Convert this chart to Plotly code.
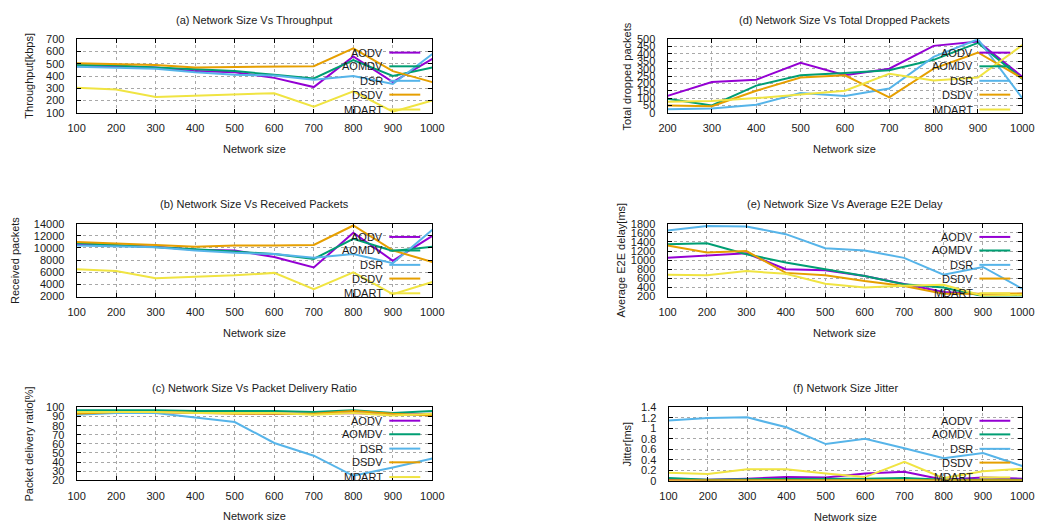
import plotly.graph_objects as go

# Network sizes (x values)
sizes = [100, 200, 300, 400, 500, 600, 700, 800, 900, 1000]
sizes_drop = [200, 300, 400, 500, 600, 700, 800, 900, 1000]

protocols = ["AODV", "AOMDV", "DSR", "DSDV", "MDART"]
colors = ["#9400d3", "#009e73", "#56b4e9", "#e69f00", "#f0e442"]

# (a) Throughput [kbps]
thr_aodv = [480, 480, 470, 440, 430, 385, 310, 560, 350, 540]
thr_aomdv = [490, 485, 470, 455, 440, 410, 380, 530, 400, 470]
thr_dsr = [475, 470, 460, 430, 410, 405, 370, 400, 335, 580]
thr_dsdv = [505, 495, 490, 470, 475, 475, 480, 625, 440, 350]
thr_mdart = [305, 290, 230, 240, 250, 260, 150, 275, 110, 200]

# (b) Received packets
rcv_aodv = [10600, 10400, 10200, 9700, 9600, 8500, 6800, 12500, 7900, 12000]
rcv_aomdv = [10800, 10500, 10100, 9800, 9400, 9000, 8200, 11500, 9500, 10200]
rcv_dsr = [10400, 10300, 10100, 9600, 9200, 9000, 8400, 9000, 7500, 13000]
rcv_dsdv = [11000, 10800, 10500, 10200, 10400, 10400, 10500, 13700, 9600, 7700]
rcv_mdart = [6500, 6200, 5000, 5200, 5500, 5900, 3200, 6000, 2400, 4400]

# (c) Packet delivery ratio [%]
pdr_aodv = [96, 95, 95, 94, 94, 93, 93, 94, 92, 93]
pdr_aomdv = [97, 97, 97, 96, 96, 96, 95, 97, 94, 96]
pdr_dsr = [92, 94, 94, 89, 84, 61, 47, 25, 34, 44]
pdr_dsdv = [93, 95, 95, 94, 93, 93, 93, 96, 93, 91]
pdr_mdart = [95, 95, 95, 94, 94, 94, 92, 94, 91, 93]

# (d) Total dropped packets (sizes 200..1000)
drp_aodv = [115, 210, 225, 340, 255, 300, 455, 485, 245]
drp_aomdv = [95, 50, 185, 255, 270, 290, 360, 475, 230]
drp_dsr = [25, 30, 55, 135, 115, 165, 380, 500, 100]
drp_dsdv = [50, 45, 150, 240, 255, 105, 300, 410, 235]
drp_mdart = [75, 80, 100, 125, 150, 265, 220, 240, 460]

# (e) Average end-to-end delay [ms]
e2e_aodv = [1050, 1100, 1150, 800, 780, 650, 480, 300, 250, 260]
e2e_aomdv = [1350, 1370, 1130, 950, 800, 650, 470, 400, 210, 220]
e2e_dsr = [1650, 1750, 1740, 1570, 1260, 1210, 1050, 680, 850, 370]
e2e_dsdv = [1320, 1170, 1200, 720, 670, 540, 430, 260, 260, 270]
e2e_mdart = [680, 670, 760, 700, 480, 400, 440, 460, 220, 240]

# (f) Jitter [ms]
jit_aodv = [0.03, 0.02, 0.04, 0.07, 0.06, 0.14, 0.17, 0.02, 0.06, 0.04]
jit_aomdv = [0.05, 0.02, 0.03, 0.03, 0.03, 0.04, 0.05, 0.02, 0.02, 0.02]
jit_dsr = [1.15, 1.20, 1.21, 1.02, 0.70, 0.80, 0.62, 0.43, 0.53, 0.28]
jit_dsdv = [0.01, 0.01, 0.01, 0.01, 0.01, 0.01, 0.01, 0.01, 0.01, 0.01]
jit_mdart = [0.15, 0.13, 0.22, 0.22, 0.14, 0.07, 0.36, 0.05, 0.18, 0.23]

W, H = 1049, 531
FONT = "Liberation Sans, Arial, sans-serif"
TXT = "#1a1a1a"


def px_x(p):
    return p / W


def px_y(p):
    return 1 - p / H


# panel definitions: title, y title, x values, series, y range, y dtick, pixel box
panels = [
    dict(title="(a) Network Size Vs Throughput", ytitle="Throughput[kbps]", x=sizes,
         ys=[thr_aodv, thr_aomdv, thr_dsr, thr_dsdv, thr_mdart],
         yr=[100, 700], dy=100, xr=[100, 1000], box=(69, 432, 34, 109.3), ytx=20),
    dict(title="(b) Network Size Vs Received Packets", ytitle="Received packets", x=sizes,
         ys=[rcv_aodv, rcv_aomdv, rcv_dsr, rcv_dsdv, rcv_mdart],
         yr=[2000, 14000], dy=2000, xr=[100, 1000], box=(69, 432, 222.7, 297.3), ytx=6),
    dict(title="(c) Network Size Vs Packet Delivery Ratio", ytitle="Packet delivery ratio[%]", x=sizes,
         ys=[pdr_aodv, pdr_aomdv, pdr_dsr, pdr_dsdv, pdr_mdart],
         yr=[20, 100], dy=10, xr=[100, 1000], box=(69, 432, 410.7, 485.3), ytx=20),
    dict(title="(d) Network Size Vs Total Dropped Packets", ytitle="Total dropped packets", x=sizes_drop,
         ys=[drp_aodv, drp_aomdv, drp_dsr, drp_dsdv, drp_mdart],
         yr=[0, 500], dy=50, xr=[200, 1000], box=(672, 1034, 34, 109.3), ytx=631),
    dict(title="(e) Network Size Vs Average E2E Delay", ytitle="Average E2E delay[ms]", x=sizes,
         ys=[e2e_aodv, e2e_aomdv, e2e_dsr, e2e_dsdv, e2e_mdart],
         yr=[200, 1800], dy=200, xr=[100, 1000], box=(672, 1034, 222.7, 297.3), ytx=625),
    dict(title="(f) Network Size Jitter", ytitle="Jitter[ms]", x=sizes,
         ys=[jit_aodv, jit_aomdv, jit_dsr, jit_dsdv, jit_mdart],
         yr=[0, 1.4], dy=0.2, xr=[100, 1000], box=(673, 1034, 410.7, 485.7), ytx=631),
]

fig = go.Figure()
annotations = []
shapes = []
layout = {}

# legend row positions inside each panel (fraction of the plot height)
key_rows = [0.818, 0.632, 0.435, 0.247, 0.045]

for i, p in enumerate(panels, start=1):
    xa = "x" if i == 1 else f"x{i}"
    ya = "y" if i == 1 else f"y{i}"
    x0, x1, y0, y1 = p["box"]
    for name, col, yv in zip(protocols, colors, p["ys"]):
        fig.add_trace(go.Scatter(x=p["x"], y=yv, mode="lines", name=name,
                                 line=dict(color=col, width=2),
                                 xaxis=xa, yaxis=ya, showlegend=False))
    axis_common = dict(showline=True, linecolor="black", linewidth=1, mirror="ticks",
                       ticks="inside", ticklen=4, tickcolor="black",
                       showgrid=True, gridcolor="#a8a8a8", griddash="dot", gridwidth=1,
                       zeroline=False, exponentformat="none",
                       tickfont=dict(family=FONT, size=11, color=TXT))
    layout["xaxis" if i == 1 else f"xaxis{i}"] = dict(
        axis_common, domain=[px_x(x0), px_x(x1)], range=p["xr"], dtick=100, tick0=100,
        anchor=ya, ticklabelstandoff=5)
    ydict = dict(axis_common, domain=[px_y(y1), px_y(y0)], range=p["yr"], dtick=p["dy"], tick0=0,
                 anchor=xa, ticklabelstandoff=9)
    if p["dy"] >= 1:
        ydict["tickformat"] = "d"
    layout["yaxis" if i == 1 else f"yaxis{i}"] = ydict

    cx = (x0 + x1) / 2
    # panel title
    annotations.append(dict(text=p["title"], x=px_x(cx), y=px_y(y0 - 20), xref="paper", yref="paper",
                            showarrow=False, xanchor="center", yanchor="middle",
                            font=dict(family=FONT, size=11, color=TXT)))
    # x axis title
    annotations.append(dict(text="Network size", x=px_x(cx), y=px_y(y1 + 37), xref="paper", yref="paper",
                            showarrow=False, xanchor="center", yanchor="middle",
                            font=dict(family=FONT, size=11, color=TXT)))
    # y axis title
    annotations.append(dict(text=p["ytitle"], x=px_x(p["ytx"]), y=px_y((y0 + y1) / 2),
                            xref="paper", yref="paper", showarrow=False, textangle=-90,
                            xanchor="center", yanchor="middle",
                            font=dict(family=FONT, size=11, color=TXT)))
    # key: label then line sample, right-aligned inside the plot
    for name, col, ky in zip(protocols, colors, key_rows):
        annotations.append(dict(text=name, x=0.866, y=ky, xref=f"{xa} domain", yref=f"{ya} domain",
                                showarrow=False, xanchor="right", yanchor="middle",
                                font=dict(family=FONT, size=11, color=TXT)))
        shapes.append(dict(type="line", xref=f"{xa} domain", yref=f"{ya} domain",
                           x0=0.879, x1=0.966, y0=ky, y1=ky,
                           line=dict(color=col, width=2)))

fig.update_layout(**layout)
fig.update_layout(width=W, height=H, margin=dict(l=0, r=0, t=0, b=0),
                  paper_bgcolor="white", plot_bgcolor="white",
                  annotations=annotations, shapes=shapes, showlegend=False,
                  font=dict(family=FONT, size=11, color=TXT))

fig.write_html("out.html")
